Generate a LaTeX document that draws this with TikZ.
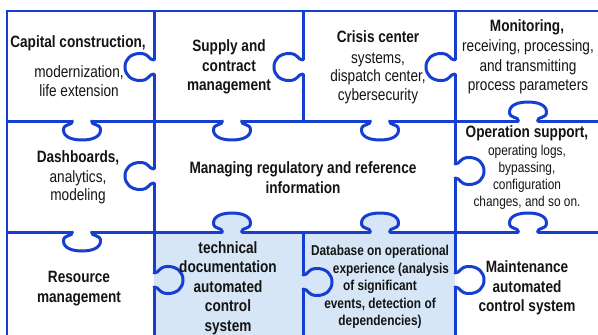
\documentclass[tikz,border=0pt]{standalone}
\usepackage{fontspec}
\setmainfont[FakeStretch=0.83]{Liberation Sans}
\definecolor{pz}{RGB}{22,62,208}
\definecolor{cellblue}{RGB}{214,230,247}
\definecolor{txt}{RGB}{20,20,20}
% horizontal-edge knob: cx, y0, direction (+1 down / -1 up), fill colour
\newcommand\hknob[4]{%
  \fill[#4] ({#1-9.5},#2) .. controls ({#1-9.5},{#2+(#3)*5}) and ({#1-18.5},{#2+(#3)*2}) .. ({#1-18.5},{#2+(#3)*9})
    .. controls ({#1-18.5},{#2+(#3)*16}) and ({#1-10},{#2+(#3)*19}) .. (#1,{#2+(#3)*19})
    .. controls ({#1+10},{#2+(#3)*19}) and ({#1+18.5},{#2+(#3)*16}) .. ({#1+18.5},{#2+(#3)*9})
    .. controls ({#1+18.5},{#2+(#3)*2}) and ({#1+9.5},{#2+(#3)*5}) .. ({#1+9.5},#2)
    -- ({#1+9.5},{#2-(#3)*3}) -- ({#1-9.5},{#2-(#3)*3}) -- cycle;
  \draw[knobline] ({#1-9.5},#2) .. controls ({#1-9.5},{#2+(#3)*5}) and ({#1-18.5},{#2+(#3)*2}) .. ({#1-18.5},{#2+(#3)*9})
    .. controls ({#1-18.5},{#2+(#3)*16}) and ({#1-10},{#2+(#3)*19}) .. (#1,{#2+(#3)*19})
    .. controls ({#1+10},{#2+(#3)*19}) and ({#1+18.5},{#2+(#3)*16}) .. ({#1+18.5},{#2+(#3)*9})
    .. controls ({#1+18.5},{#2+(#3)*2}) and ({#1+9.5},{#2+(#3)*5}) .. ({#1+9.5},#2);
}
% vertical-edge knob: x0, cy, direction (+1 right / -1 left), fill colour, colour behind the edge
\newcommand\vknob[5]{%
  \fill[#5] (#1,{#2-7}) rectangle ({#1-(#3)*3},{#2+7});
  \fill[#4] (#1,{#2-7}) .. controls ({#1+(#3)*6},{#2-7}) and ({#1+(#3)*4},{#2-13.5}) .. ({#1+(#3)*14},{#2-13.5})
    .. controls ({#1+(#3)*23},{#2-13.5}) and ({#1+(#3)*29},{#2-8}) .. ({#1+(#3)*29},#2)
    .. controls ({#1+(#3)*29},{#2+8}) and ({#1+(#3)*23},{#2+13.5}) .. ({#1+(#3)*14},{#2+13.5})
    .. controls ({#1+(#3)*4},{#2+13.5}) and ({#1+(#3)*6},{#2+7}) .. (#1,{#2+7}) -- cycle;
  \draw[knobline] (#1,{#2-7}) .. controls ({#1+(#3)*6},{#2-7}) and ({#1+(#3)*4},{#2-13.5}) .. ({#1+(#3)*14},{#2-13.5})
    .. controls ({#1+(#3)*23},{#2-13.5}) and ({#1+(#3)*29},{#2-8}) .. ({#1+(#3)*29},#2)
    .. controls ({#1+(#3)*29},{#2+8}) and ({#1+(#3)*23},{#2+13.5}) .. ({#1+(#3)*14},{#2+13.5})
    .. controls ({#1+(#3)*4},{#2+13.5}) and ({#1+(#3)*6},{#2+7}) .. (#1,{#2+7});
}
\newcommand\hdfont{\fontsize{16.4}{19.5}\selectfont\bfseries}
\newcommand\subfont{\fontsize{16.4}{18.5}\selectfont}
\newcommand\smfont{\fontsize{14.3}{17}\selectfont}
\newcommand\smbfont{\fontsize{14.3}{17.5}\selectfont\bfseries}
\begin{document}
\begin{tikzpicture}[x=1pt,y=-1pt,
  gridline/.style={draw=pz,line width=3pt},
  border/.style={draw=pz,line width=2.4pt},
  knobline/.style={draw=pz,line width=3pt,line cap=round},
  lbl/.style={inner sep=0pt,align=center,text=txt}]
\useasboundingbox (0,0) rectangle (598,335);
\clip (0,0) rectangle (598,335);
\fill[white] (0,0) rectangle (598,335);
\fill[cellblue] (154,232) rectangle (455,340);
% grid
\draw[gridline] (7,121) -- (600,121);
\draw[gridline] (7,232) -- (600,232);
\draw[gridline] (154,11) -- (154,340);
\draw[gridline] (303,11) -- (303,121);
\draw[gridline] (303,232) -- (303,340);
\draw[gridline] (455,11) -- (455,340);
\draw[border] (600,11) -- (7,11) -- (7,340);
% knobs on horizontal edges
\hknob{82}{121}{1}{white}
\hknob{232}{121}{1}{white}
\hknob{380}{121}{1}{white}
\hknob{528}{121}{-1}{white}
\hknob{82}{232}{1}{white}
\hknob{232}{232}{-1}{cellblue}
\hknob{380}{232}{-1}{cellblue}
\hknob{528}{232}{-1}{white}
% knobs on vertical edges
\vknob{154}{67}{-1}{white}{white}
\vknob{303}{67}{-1}{white}{white}
\vknob{455}{67}{-1}{white}{white}
\vknob{154}{176}{-1}{white}{white}
\vknob{455}{171}{1}{white}{white}
\vknob{154}{280}{1}{cellblue}{white}
\vknob{303}{282}{1}{cellblue}{cellblue}
\vknob{455}{280}{1}{white}{cellblue}
% texts
\node[lbl,font=\hdfont] (caph) at (78,43) {Capital construction,};
\node[lbl,font=\subfont] (caps) at (79,81) {modernization,\\life extension};
\node[lbl,font=\hdfont] (supply) at (229,67) {Supply and\\contract\\management};
\node[lbl,font=\hdfont] (crih) at (378,37) {Crisis center};
\node[lbl,font=\subfont] (cris) at (378,78) {systems,\\dispatch center,\\cybersecurity};
\node[lbl,font=\hdfont] (monh) at (527,27) {Monitoring,};
\node[lbl,font=\fontsize{16.4}{19.5}\selectfont] (mons) at (528,67) {receiving, processing,\\and transmitting\\process parameters};
\node[lbl,font=\hdfont] (dash) at (78,158) {Dashboards,};
\node[lbl,font=\subfont] (dashs) at (78,187.5) {analytics,\\modeling};
\node[lbl,font=\hdfont] (manag) at (303,177.5) {Managing regulatory and reference\\information};
\node[lbl,font=\hdfont] (oph) at (527,133) {Operation support,};
\node[lbl,font=\smfont] (ops) at (527,177.5) {operating logs,\\bypassing,\\configuration\\changes, and so on.};
\node[lbl,font=\hdfont] (res) at (79,288.5) {Resource\\management};
\node[lbl,font=\hdfont] (tech) at (228,288) {technical\\documentation\\automated\\control\\system};
\node[lbl,font=\smbfont] (db) at (380,287) {Database on operational\\\hspace*{22pt}experience (analysis\\of significant\\events, detection of\\dependencies)};
\node[lbl,font=\hdfont] (maint) at (527,288) {Maintenance\\automated\\control system};
\end{tikzpicture}
\end{document}
